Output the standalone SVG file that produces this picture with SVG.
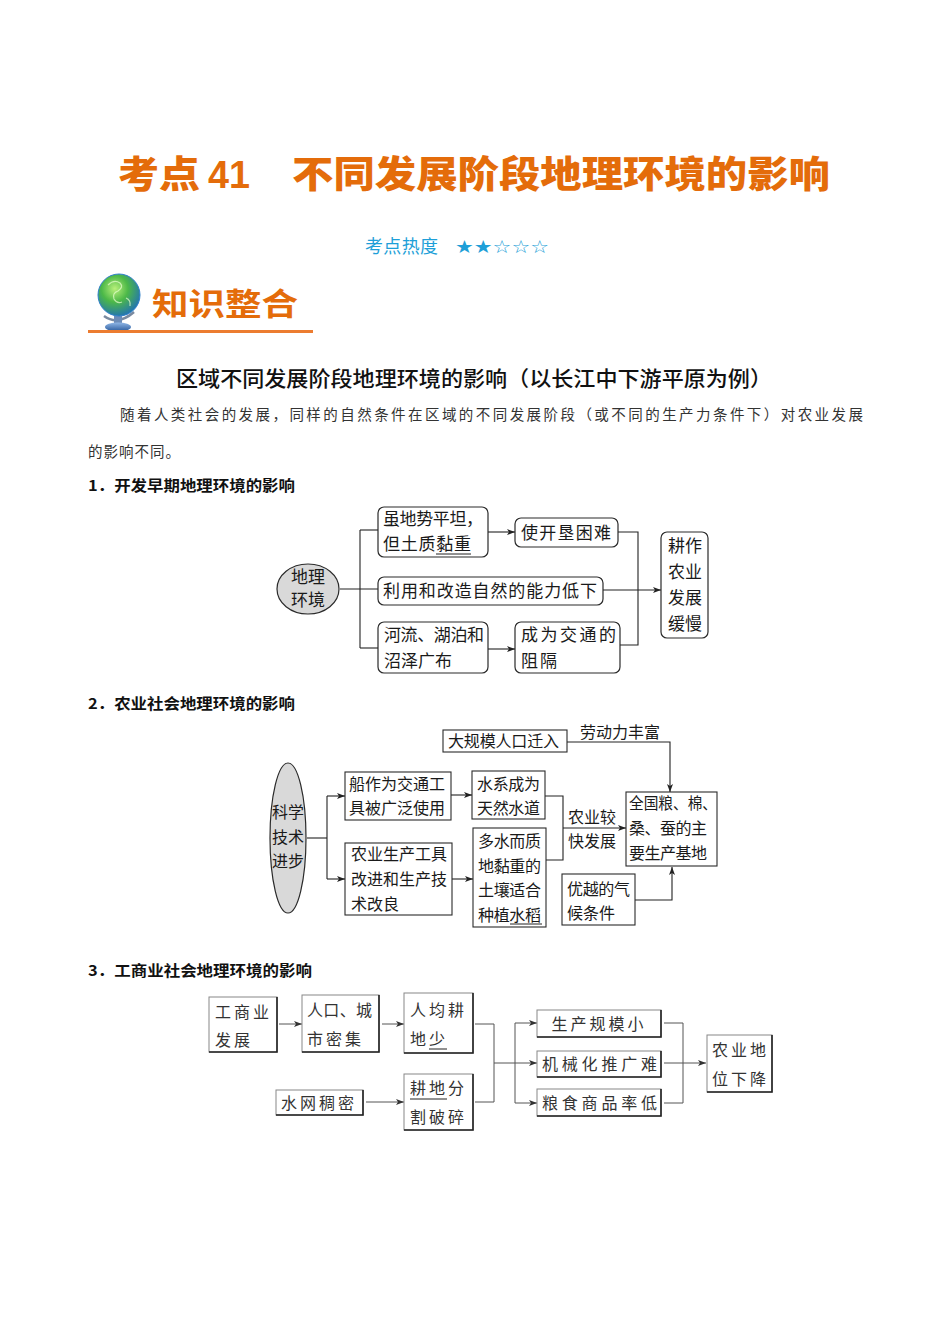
<svg xmlns="http://www.w3.org/2000/svg" width="950" height="1344" viewBox="0 0 950 1344">
<defs>
<marker id="ah" viewBox="0 0 8 6" refX="8" refY="3" markerWidth="8" markerHeight="6" markerUnits="userSpaceOnUse" orient="auto"><path d="M0,0 L8,3 L0,6 L2,3 z" fill="#222"/></marker>
<marker id="ah3" viewBox="0 0 8 6" refX="8" refY="3" markerWidth="8" markerHeight="6" markerUnits="userSpaceOnUse" orient="auto"><path d="M0,0 L8,3 L0,6 L2,3 z" fill="#333"/></marker>
<radialGradient id="globe" cx="0.4" cy="0.35" r="0.7"><stop offset="0" stop-color="#b8f07a"/><stop offset="0.45" stop-color="#4cb848"/><stop offset="1" stop-color="#1f6fb8"/></radialGradient>
<linearGradient id="base" x1="0" y1="0" x2="0" y2="1"><stop offset="0" stop-color="#8fb6e6"/><stop offset="1" stop-color="#2a5a9c"/></linearGradient>
<style>
text{font-family:"Noto Sans CJK SC","Noto Sans CJK JP",sans-serif;}
.t1{font-size:17px;fill:#1a1a1a;}
.t2{font-size:16px;fill:#1a1a1a;}
.t3{font-size:16px;fill:#333;letter-spacing:3px;}
.b1{fill:#fff;stroke:#2a2a2a;stroke-width:1.2;}
.b2{fill:#fff;stroke:#2a2a2a;stroke-width:1.1;}
.b3{fill:#fff;stroke:#888;stroke-width:1;}
.sh{fill:none;stroke:#222;stroke-width:1.6;}
.el{fill:#d9d9d9;stroke:#2a2a2a;stroke-width:1.2;}
.c{fill:none;stroke:#222;stroke-width:1.1;}
.c3{fill:none;stroke:#555;stroke-width:1;}
.ul{stroke:#222;stroke-width:1;}
</style>
</defs>
<rect width="950" height="1344" fill="#fff"/>

<!-- Title -->
<g id="title">
<text x="118" y="188" font-size="37" font-weight="900" fill="#e46c0a" textLength="82" lengthAdjust="spacingAndGlyphs">考点</text>
<text x="208" y="188" font-size="38" font-weight="bold" fill="#e46c0a" style="font-family:'Liberation Sans',sans-serif" textLength="42" lengthAdjust="spacingAndGlyphs">41</text>
<text x="292" y="188" font-size="37" font-weight="900" fill="#e46c0a" textLength="538" lengthAdjust="spacingAndGlyphs">不同发展阶段地理环境的影响</text>
</g>
<g id="heat">
<text x="365" y="253" font-size="18" fill="#1e9fd8" textLength="73">考点热度</text>
<text x="455" y="253" font-size="18" fill="#1e9fd8" style="font-family:'DejaVu Sans',sans-serif" textLength="94" lengthAdjust="spacingAndGlyphs">★★☆☆☆</text>
</g>
<g id="logo">
<path d="M104,316 Q118,326 134,312" fill="none" stroke="#7a8aa0" stroke-width="2.5"/>
<rect x="114" y="316" width="8" height="8" fill="#6c8cb8"/>
<ellipse cx="118" cy="327" rx="13" ry="4.5" fill="url(#base)"/>
<circle cx="119" cy="295" r="21" fill="url(#globe)" stroke="#2f7fc9" stroke-width="1"/>
<path d="M108,285 q6,-6 12,-2 q4,4 -2,8 q-6,2 -4,8 q3,5 8,3 M126,298 q5,2 4,8" fill="none" stroke="#e8ffd0" stroke-width="1.2" opacity="0.7"/>
<text x="152" y="315" font-size="31" font-weight="bold" fill="#e46c0a" textLength="146" lengthAdjust="spacingAndGlyphs">知识整合</text>
<rect x="88" y="330" width="225" height="3" fill="#ec7c30"/>
</g>

<g id="heading">
<text x="176" y="386" font-size="21" font-weight="500" fill="#111" textLength="596" lengthAdjust="spacingAndGlyphs">区域不同发展阶段地理环境的影响（以长江中下游平原为例）</text>
<text x="120" y="420" font-size="14.5" fill="#333" textLength="743" lengthAdjust="spacing">随着人类社会的发展，同样的自然条件在区域的不同发展阶段（或不同的生产力条件下）对农业发展</text>
<text x="88" y="457" font-size="14.5" fill="#333" textLength="92" lengthAdjust="spacing">的影响不同。</text>
<text x="88" y="491" font-size="15" font-weight="bold" fill="#111" textLength="207" lengthAdjust="spacingAndGlyphs">1．开发早期地理环境的影响</text>
<text x="88" y="709" font-size="15" font-weight="bold" fill="#111" textLength="207" lengthAdjust="spacingAndGlyphs">2．农业社会地理环境的影响</text>
<text x="88" y="976" font-size="15" font-weight="bold" fill="#111" textLength="224" lengthAdjust="spacingAndGlyphs">3．工商业社会地理环境的影响</text>
</g>

<!-- Section 1 connectors -->
<g id="connectors1">
<path class="c" d="M340,589 H378"/>
<path class="c" d="M360,530 V648"/>
<path class="c" d="M360,530 H378"/>
<path class="c" d="M360,648 H378"/>
<path class="c" d="M488,532 H515" marker-end="url(#ah)"/>
<path class="c" d="M488,649 H515" marker-end="url(#ah)"/>
<path class="c" d="M618,532 H638 V645 H620"/>
<path class="c" d="M603,590 H661" marker-end="url(#ah)"/>
</g>
<g id="n1_env"><ellipse class="el" cx="308" cy="589" rx="31" ry="25"/>
<text class="t1" x="308" y="583" text-anchor="middle">地理</text><text class="t1" x="308" y="606" text-anchor="middle">环境</text></g>
<g id="n1_a"><rect class="b1" x="378" y="507" width="110" height="50" rx="6"/>
<text class="t1" x="383" y="525" textLength="100">虽地势平坦，</text><text class="t1" x="383" y="550" textLength="88">但土质黏重</text>
<line class="ul" x1="436" y1="554" x2="471" y2="554"/></g>
<g id="n1_b"><rect class="b1" x="378" y="577" width="225" height="28" rx="6"/>
<text class="t1" x="383" y="597" textLength="214">利用和改造自然的能力低下</text></g>
<g id="n1_c"><rect class="b1" x="378" y="622" width="110" height="51" rx="6"/>
<text class="t1" x="384" y="641" textLength="100">河流、湖泊和</text><text class="t1" x="384" y="667" textLength="68">沼泽广布</text></g>
<g id="n1_d"><rect class="b1" x="515" y="518" width="103" height="29" rx="6"/>
<text class="t1" x="521" y="539" textLength="90">使开垦困难</text></g>
<g id="n1_e"><rect class="b1" x="515" y="622" width="105" height="51" rx="6"/>
<text class="t1" x="521" y="641" textLength="95">成为交通的</text><text class="t1" x="521" y="667" textLength="36">阻隔</text></g>
<g id="n1_f"><rect class="b1" x="661" y="532" width="47" height="106" rx="6"/>
<text class="t1" x="685" y="552" text-anchor="middle">耕作</text><text class="t1" x="685" y="578" text-anchor="middle">农业</text>
<text class="t1" x="685" y="604" text-anchor="middle">发展</text><text class="t1" x="685" y="630" text-anchor="middle">缓慢</text></g>

<!-- Section 2 connectors -->
<g id="connectors2">
<path class="c" d="M307,838 H327"/>
<path class="c" d="M327,796 V879"/>
<path class="c" d="M327,796 H345" marker-end="url(#ah)"/>
<path class="c" d="M327,879 H345" marker-end="url(#ah)"/>
<path class="c" d="M451,795 H472" marker-end="url(#ah)"/>
<path class="c" d="M452,879 H473" marker-end="url(#ah)"/>
<path class="c" d="M545,796 H563 V860 H546"/>
<path class="c" d="M563,828 H626" marker-end="url(#ah)"/>
<path class="c" d="M567,742 H670 V792" marker-end="url(#ah)"/>
<path class="c" d="M635,900 H672 V867" marker-end="url(#ah)"/>
</g>
<g id="n2_sci"><ellipse class="el" cx="288" cy="838" rx="18" ry="75"/>
<text class="t2" x="288" y="818" text-anchor="middle">科学</text><text class="t2" x="288" y="843" text-anchor="middle">技术</text><text class="t2" x="288" y="867" text-anchor="middle">进步</text></g>
<g id="n2_mig"><rect class="b2" x="443" y="730" width="124" height="22"/>
<text class="t2" x="448" y="747" textLength="111">大规模人口迁入</text></g>
<text class="t2" x="580" y="738" textLength="80">劳动力丰富</text>
<g id="n2_boat"><rect class="b2" x="345" y="772" width="106" height="48"/>
<text class="t2" x="349" y="790" textLength="96">船作为交通工</text><text class="t2" x="349" y="814" textLength="96">具被广泛使用</text></g>
<g id="n2_tool"><rect class="b2" x="345" y="843" width="107" height="72"/>
<text class="t2" x="351" y="860" textLength="96">农业生产工具</text><text class="t2" x="351" y="885" textLength="96">改进和生产技</text><text class="t2" x="351" y="910" textLength="48">术改良</text></g>
<g id="n2_water"><rect class="b2" x="472" y="771" width="73" height="48"/>
<text class="t2" x="477" y="790" textLength="63">水系成为</text><text class="t2" x="477" y="814" textLength="63">天然水道</text></g>
<g id="n2_soil"><rect class="b2" x="473" y="828" width="73" height="99"/>
<text class="t2" x="478" y="847" textLength="63">多水而质</text><text class="t2" x="478" y="872" textLength="63">地黏重的</text>
<text class="t2" x="478" y="896" textLength="63">土壤适合</text><text class="t2" x="478" y="921" textLength="63">种植水稻</text>
<line class="ul" x1="510" y1="924" x2="542" y2="924"/></g>
<text class="t2" x="568" y="823" textLength="48">农业较</text><text class="t2" x="568" y="847" textLength="48">快发展</text>
<g id="n2_base"><rect class="b2" x="626" y="792" width="91" height="74"/>
<text class="t2" x="629" y="809" textLength="88" lengthAdjust="spacingAndGlyphs">全国粮、棉、</text><text class="t2" x="629" y="834" textLength="78">桑、蚕的主</text><text class="t2" x="629" y="859" textLength="78">要生产基地</text></g>
<g id="n2_climate"><rect class="b2" x="562" y="874" width="73" height="51"/>
<text class="t2" x="567" y="895" textLength="63">优越的气</text><text class="t2" x="567" y="919" textLength="48">候条件</text></g>

<!-- Section 3 connectors -->
<g id="connectors3">
<path class="c3" d="M279,1024 H302" marker-end="url(#ah3)"/>
<path class="c3" d="M382,1024 H404" marker-end="url(#ah3)"/>
<path class="c3" d="M475,1024 H494 V1102 H475"/>
<path class="c3" d="M366,1102 H404" marker-end="url(#ah3)"/>
<path class="c3" d="M494,1063 H515"/>
<path class="c3" d="M515,1023 V1103"/>
<path class="c3" d="M515,1023 H537" marker-end="url(#ah3)"/>
<path class="c3" d="M515,1063 H537" marker-end="url(#ah3)"/>
<path class="c3" d="M515,1103 H537" marker-end="url(#ah3)"/>
<path class="c3" d="M664,1023 H683 V1103 H664"/>
<path class="c3" d="M664,1063 H706" marker-end="url(#ah3)"/>
</g>
<g id="n3_ind"><rect class="b3" x="209" y="997" width="68" height="55"/><path class="sh" d="M277,997 V1052 H209"/>
<text class="t3" x="215" y="1018">工商业</text><text class="t3" x="215" y="1046">发展</text></g>
<g id="n3_pop"><rect class="b3" x="302" y="995" width="77" height="57"/><path class="sh" d="M379,995 V1052 H302"/>
<text class="t3" x="307" y="1016" textLength="68">人口、城</text><text class="t3" x="307" y="1045">市密集</text></g>
<g id="n3_per"><rect class="b3" x="404" y="993" width="69" height="60"/><path class="sh" d="M473,993 V1053 H404"/>
<text class="t3" x="410" y="1016">人均耕</text><text class="t3" x="410" y="1045">地少</text>
<line class="ul" x1="429" y1="1049" x2="447" y2="1049"/></g>
<g id="n3_net"><rect class="b3" x="276" y="1090" width="87" height="25"/><path class="sh" d="M363,1090 V1115 H276"/>
<text class="t3" x="281" y="1109">水网稠密</text></g>
<g id="n3_frag"><rect class="b3" x="404" y="1074" width="69" height="56"/><path class="sh" d="M473,1074 V1130 H404"/>
<text class="t3" x="410" y="1094">耕地分</text><text class="t3" x="410" y="1123">割破碎</text>
<line class="ul" x1="410" y1="1099" x2="447" y2="1099"/></g>
<g id="n3_small"><rect class="b3" x="537" y="1010" width="124" height="27"/><path class="sh" d="M661,1010 V1037 H537"/>
<text class="t3" x="599" y="1030" text-anchor="middle">生产规模小</text></g>
<g id="n3_mech"><rect class="b3" x="537" y="1051" width="124" height="26"/><path class="sh" d="M661,1051 V1077 H537"/>
<text class="t3" x="601" y="1070" text-anchor="middle" textLength="118">机械化推广难</text></g>
<g id="n3_grain"><rect class="b3" x="537" y="1089" width="124" height="27"/><path class="sh" d="M661,1089 V1116 H537"/>
<text class="t3" x="601" y="1109" text-anchor="middle" textLength="118">粮食商品率低</text></g>
<g id="n3_fall"><rect class="b3" x="707" y="1035" width="65" height="57"/><path class="sh" d="M772,1035 V1092 H707"/>
<text class="t3" x="712" y="1056">农业地</text><text class="t3" x="712" y="1085">位下降</text></g>
</svg>
